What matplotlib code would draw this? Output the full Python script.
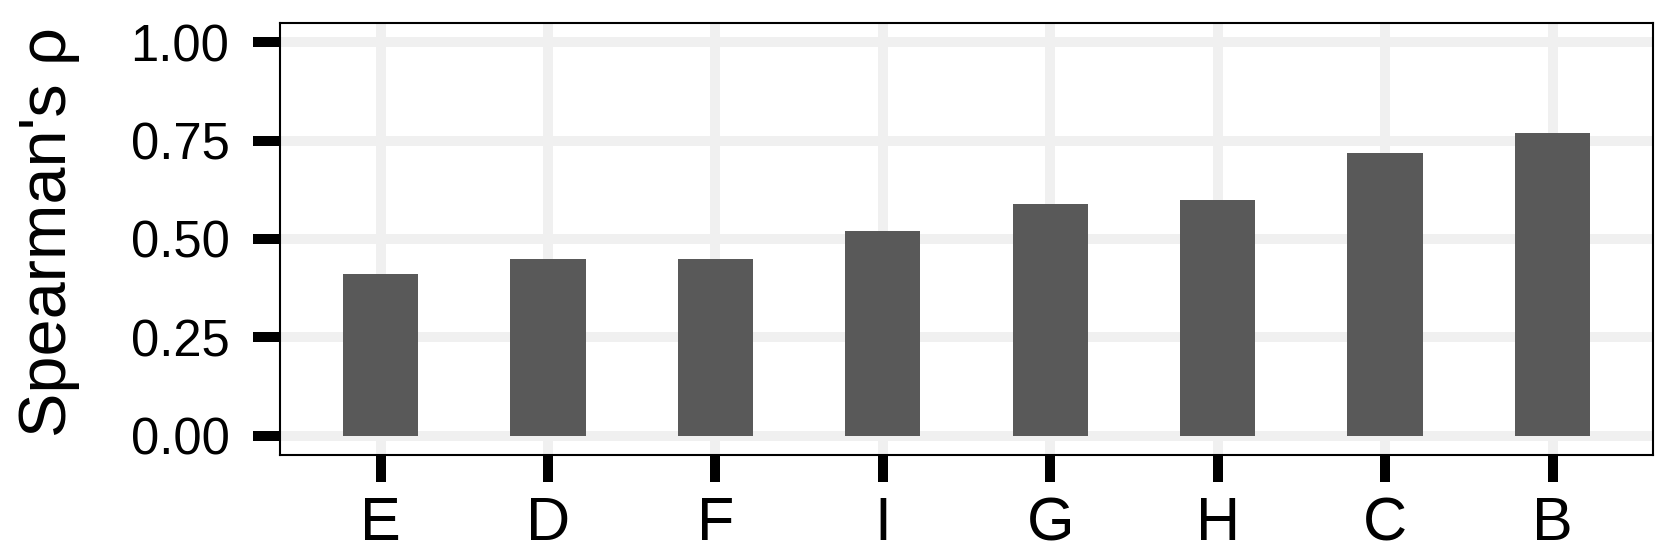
import matplotlib
matplotlib.use("Agg")
import matplotlib.pyplot as plt

# Korelacje Spearmana dla kolejnych grup
categories = ["E", "D", "F", "I", "G", "H", "C", "B"]
rho = [0.41, 0.45, 0.45, 0.52, 0.59, 0.60, 0.72, 0.77]
y_ticks = [0.00, 0.25, 0.50, 0.75, 1.00]

plt.rcParams['font.family'] = ['Liberation Sans', 'DejaVu Sans']

fig = plt.figure(figsize=(16.59, 5.52), dpi=100)
ax = fig.add_axes([0.1688, 0.1754, 0.8276, 0.7833])

pos = list(range(1, len(categories) + 1))
ax.bar(pos, rho, width=0.45, color='#595959', zorder=3)

ax.set_xlim(0.4, len(categories) + 0.6)
ax.set_ylim(-0.05, 1.05)
ax.set_xticks(pos)
ax.set_xticklabels(categories)
ax.set_yticks(y_ticks)
ax.set_yticklabels([f"{v:.2f}" for v in y_ticks])

ax.grid(True, color='#f0f0f0', linewidth=7.2, zorder=0)
ax.set_axisbelow(True)

for s in ax.spines.values():
    s.set_linewidth(1.5)
    s.set_color('black')

ax.tick_params(axis='both', length=19.4, width=7.2, color='black')
ax.tick_params(axis='y', labelsize=36.5, pad=17)
ax.tick_params(axis='x', labelsize=44, pad=10)

ax.set_ylabel("Spearman's ρ", fontsize=48)
ax.yaxis.set_label_coords(-0.146, 0.516)

fig.savefig("out.png", dpi=100)
